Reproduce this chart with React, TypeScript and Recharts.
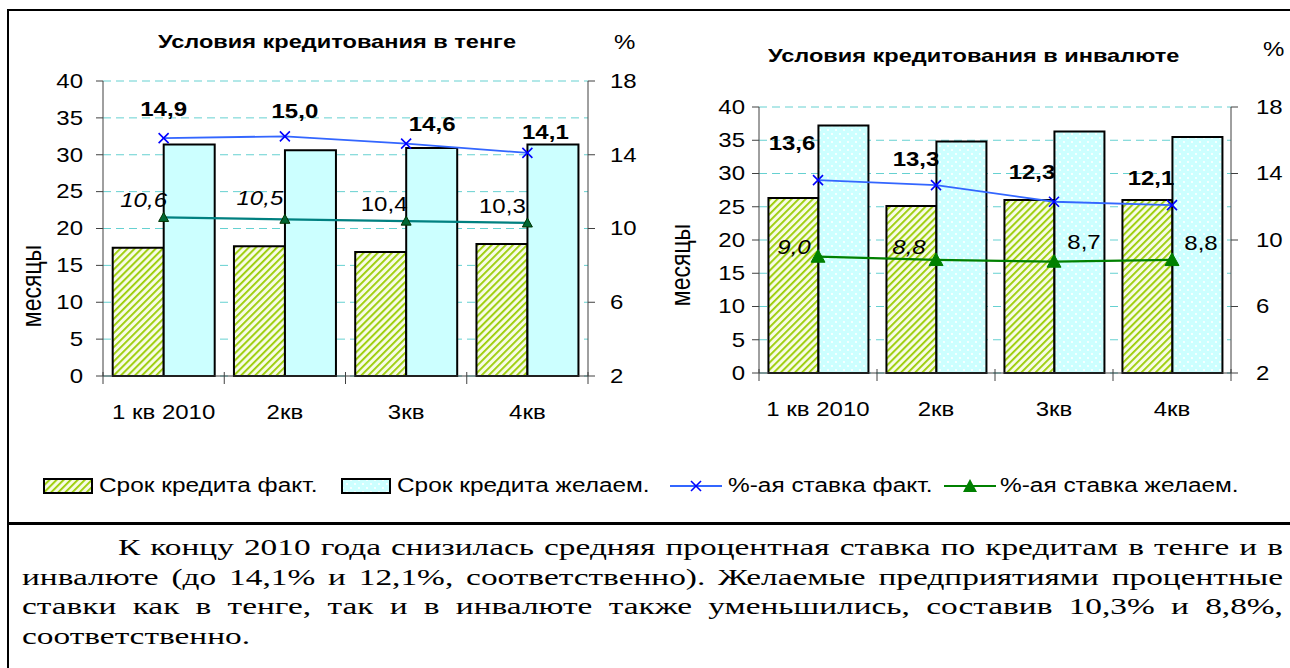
import { Bar, ComposedChart, CartesianGrid, LabelList, Line, XAxis, YAxis } from "recharts";

const quarters = ["1 кв 2010", "2кв", "3кв", "4кв"];

const tengeTermFact = [17.4, 17.6, 16.8, 17.9];
const tengeTermWanted = [31.4, 30.6, 30.9, 31.4];
const tengeRateFact = [14.9, 15.0, 14.6, 14.1];
const tengeRateWanted = [10.6, 10.5, 10.4, 10.3];

const fxTermFact = [26.3, 25.1, 26.0, 26.0];
const fxTermWanted = [37.2, 34.8, 36.3, 35.5];
const fxRateFact = [13.6, 13.3, 12.3, 12.1];
const fxRateWanted = [9.0, 8.8, 8.7, 8.8];

const monthTicks = [0, 5, 10, 15, 20, 25, 30, 35, 40];
const rateTicks = [2, 6, 10, 14, 18];

const legendNames = [
  "Срок кредита факт.",
  "Срок кредита желаем.",
  "%-ая ставка факт.",
  "%-ая ставка желаем.",
];

const paragraphLines = [
  "К концу 2010 года снизилась средняя процентная ставка по кредитам в тенге и в",
  "инвалюте (до 14,1% и 12,1%, соответственно). Желаемые предприятиями процентные",
  "ставки как в тенге, так и в инвалюте также уменьшились, составив 10,3% и 8,8%,",
  "соответственно.",
];

// label nudges relative to the point (hand placed in the original)
const tengeFactNudge = [[0, -29], [10, -25], [26, -19], [18, -21]];
const tengeWantedNudge = [[-20, -17], [-25, -21], [-22, -17], [-25, -17]];
const fxFactNudge = [[-26, -37], [-20, -26], [-22, -30], [-21, -27]];
const fxWantedNudge = [[-24, -9], [-27, -13], [30, -19], [29, -17]];

const SANS = "'Liberation Sans', Arial, sans-serif";
const SERIF = "'Liberation Serif', 'Times New Roman', serif";
const AXIS = "#404040";
// the source picture is a bit wider than tall, so text gets the same stretch
const WIDE = 1.2;
const WIDE_TEXT = 1.45;

const fmt = (v: number) => v.toFixed(1).replace(".", ",");

function makeRows(tf: number[], tw: number[], rf: number[], rw: number[]) {
  return quarters.map((q, i) => ({ q, tf: tf[i], tw: tw[i], rf: rf[i], rw: rw[i] }));
}

function Wide({ x, y, anchor = "middle", size = 20, weight = "normal", italic = false, children }: any) {
  return (
    <text
      transform={`translate(${x},${y}) scale(${WIDE},1)`}
      textAnchor={anchor}
      dominantBaseline="central"
      fontFamily={SANS}
      fontSize={size}
      fontWeight={weight}
      fontStyle={italic ? "italic" : "normal"}
      fill="#000"
    >
      {children}
    </text>
  );
}

const XMark = (props: any) => {
  const { cx, cy, index } = props;
  if (cx == null || cy == null) return <g key={index} />;
  return (
    <g key={index} stroke="#0000FF" strokeWidth={1.6}>
      <line x1={cx - 5} y1={cy - 5} x2={cx + 5} y2={cy + 5} />
      <line x1={cx - 5} y1={cy + 5} x2={cx + 5} y2={cy - 5} />
    </g>
  );
};

const triangle = (fill: string, stroke: string, s: number) => (props: any) => {
  const { cx, cy, index } = props;
  if (cx == null || cy == null) return <g key={index} />;
  return (
    <path
      key={index}
      d={`M${cx},${cy - s} L${cx + s},${cy + s * 0.8} L${cx - s},${cy + s * 0.8} Z`}
      fill={fill}
      stroke={stroke}
      strokeWidth={1}
    />
  );
};

const nudgedLabel = (nudge: number[][], bold: boolean, italicUpTo: number) => (props: any) => {
  const { x, y, value, index } = props;
  const [dx, dy] = nudge[index] || [0, -20];
  return (
    <Wide x={x + dx} y={y + dy} weight={bold ? "bold" : "normal"} italic={index < italicUpTo}>
      {fmt(Number(value))}
    </Wide>
  );
};

const quarterTick = (band: number) => (props: any) => {
  const { x, y, payload, index } = props;
  return (
    <g>
      <line x1={x - band / 2} y1={y - 4} x2={x - band / 2} y2={y + 8} stroke={AXIS} />
      {index === quarters.length - 1 && (
        <line x1={x + band / 2} y1={y - 4} x2={x + band / 2} y2={y + 8} stroke={AXIS} />
      )}
      <Wide x={x} y={y + 36}>{payload.value}</Wide>
    </g>
  );
};

const valueTick = (anchor: string) => (props: any) => {
  const { x, y, payload } = props;
  return (
    <Wide x={x} y={y} anchor={anchor}>
      {payload.value}
    </Wide>
  );
};

function Patterns({ id = "" }: { id?: string }) {
  return (
    <defs>
      <pattern id={"hatch" + id} width="5" height="5" patternUnits="userSpaceOnUse" patternTransform="rotate(45)">
        <rect width="5" height="5" fill="#F7FBE6" />
        <rect width="1.8" height="5" fill="#99CC00" />
      </pattern>
      <pattern id={"dots" + id} width="8" height="8" patternUnits="userSpaceOnUse">
        <rect width="8" height="8" fill="#CCFFFF" />
        <circle cx="2" cy="2" r="1.1" fill="#FFFFFF" />
        <circle cx="6" cy="6" r="1.1" fill="#FFFFFF" />
      </pattern>
    </defs>
  );
}

type PanelProps = {
  rows: any[];
  width: number;
  top: number;
  leftW: number;
  rightW: number;
  xH: number;
  leftMargin: number;
  rightMargin: number;
  wantedFill: string;
  wantedLine: string;
  wantedMark: (p: any) => any;
  factNudge: number[][];
  wantedNudge: number[][];
};

function Panel(p: PanelProps) {
  const band = (p.width - p.leftW - p.rightW) / quarters.length;
  return (
    <ComposedChart
      width={p.width}
      height={440}
      data={p.rows}
      margin={{ top: p.top, right: 0, left: 0, bottom: 0 }}
      barCategoryGap="8%"
      barGap={0}
    >
      <Patterns />
      <CartesianGrid yAxisId="m" vertical={false} stroke="#66D1D1" strokeDasharray="8 5" />
      <XAxis
        dataKey="q"
        interval={0}
        height={p.xH}
        stroke={AXIS}
        tickLine={false}
        tickSize={0}
        tickMargin={0}
        tick={quarterTick(band)}
      />
      <YAxis
        yAxisId="m"
        width={p.leftW}
        domain={[0, 40]}
        ticks={monthTicks}
        interval={0}
        stroke={AXIS}
        tickSize={7}
        tickMargin={p.leftMargin}
        tick={valueTick("end")}
      />
      <YAxis
        yAxisId="r"
        orientation="right"
        width={p.rightW}
        domain={[2, 18]}
        ticks={rateTicks}
        interval={0}
        stroke={AXIS}
        tickSize={7}
        tickMargin={p.rightMargin}
        tick={valueTick("start")}
      />
      <Bar yAxisId="m" dataKey="tf" fill="url(#hatch)" stroke="#000" strokeWidth={2} isAnimationActive={false} />
      <Bar yAxisId="m" dataKey="tw" fill={p.wantedFill} stroke="#000" strokeWidth={2} isAnimationActive={false} />
      <Line
        yAxisId="r"
        dataKey="rf"
        stroke="#3366FF"
        strokeWidth={1.8}
        dot={XMark}
        activeDot={false}
        isAnimationActive={false}
      >
        <LabelList dataKey="rf" content={nudgedLabel(p.factNudge, true, 0)} />
      </Line>
      <Line
        yAxisId="r"
        dataKey="rw"
        stroke={p.wantedLine}
        strokeWidth={2.2}
        dot={p.wantedMark}
        activeDot={false}
        isAnimationActive={false}
      >
        <LabelList dataKey="rw" content={nudgedLabel(p.wantedNudge, false, 2)} />
      </Line>
    </ComposedChart>
  );
}

const abs = (left: number, top: number, extra: any = {}) => ({
  position: "absolute" as const,
  left,
  top,
  fontFamily: SANS,
  color: "#000",
  whiteSpace: "nowrap" as const,
  transformOrigin: "left center",
  transform: `scaleX(${WIDE})`,
  ...extra,
});

function Swatch({ kind }: { kind: number }) {
  if (kind < 2) {
    return (
      <svg width={50} height={16} style={{ display: "block" }}>
        <Patterns id="Lg" />
        <rect x={1} y={1} width={48} height={14} fill={kind === 0 ? "url(#hatchLg)" : "url(#dotsLg)"} stroke="#000" strokeWidth={2} />
      </svg>
    );
  }
  const c = kind === 2 ? "#3366FF" : "#008000";
  return (
    <svg width={52} height={16} style={{ display: "block" }}>
      <line x1={0} y1={8} x2={52} y2={8} stroke={c} strokeWidth={2} />
      {kind === 2 ? (
        <g stroke="#0000FF" strokeWidth={1.6}>
          <line x1={21} y1={3} x2={31} y2={13} />
          <line x1={21} y1={13} x2={31} y2={3} />
        </g>
      ) : (
        <path d="M26,1 L33,14 L19,14 Z" fill="#008000" />
      )}
    </svg>
  );
}

const legendAt = [
  { sw: 43, tx: 99 },
  { sw: 341, tx: 397 },
  { sw: 670, tx: 728 },
  { sw: 944, tx: 1000 },
];

export default function App() {
  const tengeRows = makeRows(tengeTermFact, tengeTermWanted, tengeRateFact, tengeRateWanted);
  const fxRows = makeRows(fxTermFact, fxTermWanted, fxRateFact, fxRateWanted);
  const lineW = 1261 / WIDE_TEXT;

  return (
    <div style={{ position: "absolute", left: 0, top: 0, width: 1290, height: 668, background: "#fff", overflow: "hidden" }}>
      {/* frame */}
      <div style={{ position: "absolute", left: 7, top: 9, right: 0, height: 2, background: "#000" }} />
      <div style={{ position: "absolute", left: 7, top: 9, width: 2, bottom: 0, background: "#000" }} />
      <div style={{ position: "absolute", left: 7, top: 522, right: 0, height: 3, background: "#000" }} />

      <div style={{ position: "absolute", left: 0, top: 0 }}>
        <Panel
          rows={tengeRows}
          width={650}
          top={81}
          leftW={103}
          rightW={62}
          xH={64}
          leftMargin={13}
          rightMargin={15}
          wantedFill="#CCFFFF"
          wantedLine="#008080"
          wantedMark={triangle("#006633", "#003300", 5)}
          factNudge={tengeFactNudge}
          wantedNudge={tengeWantedNudge}
        />
      </div>
      <div style={{ position: "absolute", left: 650, top: 0 }}>
        <Panel
          rows={fxRows}
          width={640}
          top={107}
          leftW={109}
          rightW={59}
          xH={67}
          leftMargin={7}
          rightMargin={18}
          wantedFill="url(#dots)"
          wantedLine="#008000"
          wantedMark={triangle("#008000", "#008000", 7)}
          factNudge={fxFactNudge}
          wantedNudge={fxWantedNudge}
        />
      </div>

      <div style={abs(158, 31, { fontSize: 19, fontWeight: "bold", transform: "scaleX(1.24)" })}>
        Условия кредитования в тенге
      </div>
      <div style={abs(614, 31, { fontSize: 20 })}>%</div>
      <div style={abs(768, 45, { fontSize: 19, fontWeight: "bold", transform: "scaleX(1.24)" })}>
        Условия кредитования в инвалюте
      </div>
      <div style={abs(1263, 38, { fontSize: 20 })}>%</div>

      <div style={abs(32, 286, { fontSize: 23, transformOrigin: "center", transform: `translate(-50%, -50%) scaleX(${WIDE}) rotate(-90deg)` })}>
        месяцы
      </div>
      <div style={abs(681, 265, { fontSize: 23, transformOrigin: "center", transform: `translate(-50%, -50%) scaleX(${WIDE}) rotate(-90deg)` })}>
        месяцы
      </div>

      {legendNames.map((name, i) => (
        <div key={name}>
          <div style={abs(legendAt[i].sw, 478, { transform: "none" })}>
            <Swatch kind={i} />
          </div>
          <div style={abs(legendAt[i].tx, 473, { fontSize: 20, lineHeight: "24px", transform: "scaleX(1.22)" })}>{name}</div>
        </div>
      ))}

      <div
        style={{
          position: "absolute",
          left: 22,
          top: 533,
          fontFamily: SERIF,
          fontSize: 23,
          lineHeight: "29.7px",
          color: "#000",
          transformOrigin: "left top",
          transform: `scaleX(${WIDE_TEXT})`,
        }}
      >
        {paragraphLines.map((line, i) => (
          <div
            key={i}
            style={{
              width: lineW,
              textAlign: "justify",
              textAlignLast: i < paragraphLines.length - 1 ? "justify" : "left",
              textIndent: i === 0 ? 96 / WIDE_TEXT : 0,
              whiteSpace: "nowrap",
              height: 29.7,
            }}
          >
            {line}
          </div>
        ))}
      </div>
    </div>
  );
}
